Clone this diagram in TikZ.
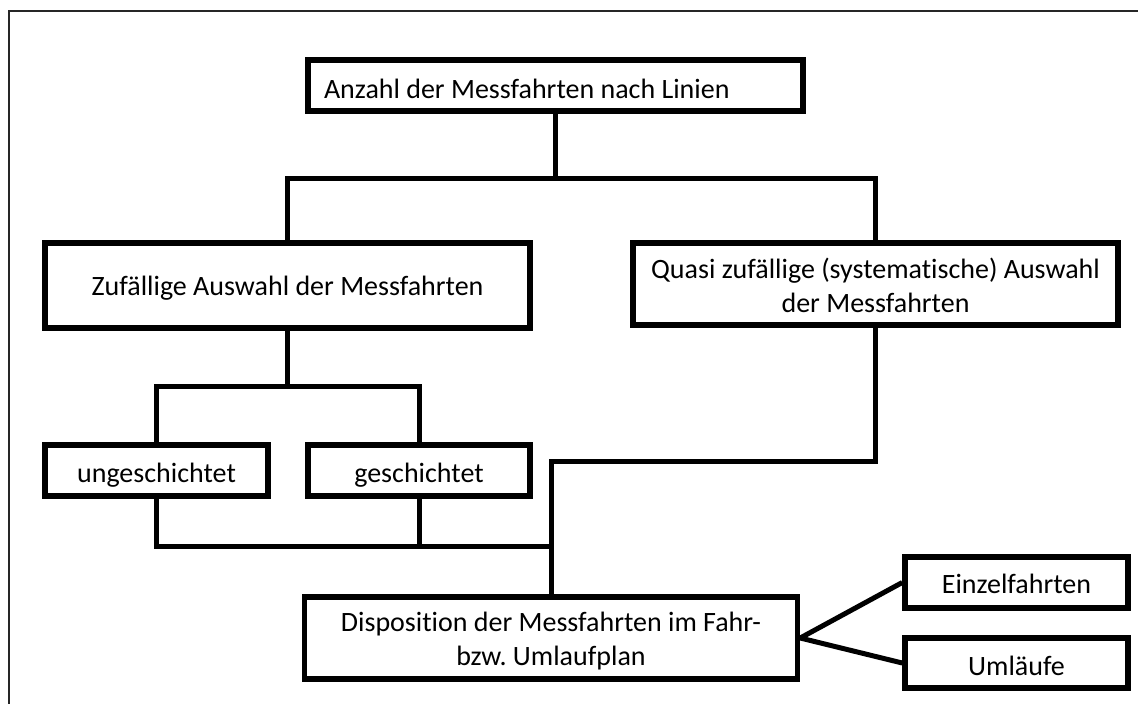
\documentclass[tikz,border=0pt]{standalone}
\usepackage{fontspec}
\setmainfont{Carlito}[Ligatures=NoCommon]
\frenchspacing
\begin{document}
\begin{tikzpicture}[x=1pt,y=-1pt,
  box/.style={draw=black, line width=5.5pt, fill=white, inner sep=0pt,
    font=\fontsize{28}{34}\selectfont, align=center, text depth=0pt},
  conn/.style={draw=black, line width=5pt},
  frameline/.style={draw=black!85, line width=2pt}]
\useasboundingbox (0,0) rectangle (1138,704);
\draw[frameline] (9,704) -- (9,11) -- (1138,11);

\node[box, minimum width=495pt, minimum height=51pt, text height=25pt] (top) at (555.5,85.5) {\makebox[463pt][l]{Anzahl der Messfahrten nach Linien}};
\node[box, minimum width=485pt, minimum height=85pt, text height=19pt] (zuf) at (287.5,285.5) {Zufällige Auswahl der Messfahrten};
\node[box, minimum width=485pt, minimum height=82pt, text height=56pt] (quasi) at (875.5,284) {Quasi zufällige (systematische) Auswahl\\der Messfahrten};
\node[box, minimum width=223pt, minimum height=51pt, text height=23pt] (ung) at (156.5,470.5) {ungeschichtet};
\node[box, minimum width=222pt, minimum height=51pt, text height=23pt] (ges) at (419,470.5) {geschichtet};
\node[box, minimum width=493pt, minimum height=82pt, text height=54pt] (disp) at (551,638) {Disposition der Messfahrten im Fahr-\\bzw. Umlaufplan};
\node[box, minimum width=223pt, minimum height=51pt, text height=22pt] (einz) at (1016.5,582.5) {Einzelfahrten};
\node[box, minimum width=223pt, minimum height=50pt, text height=24pt] (uml) at (1016.5,663) {Umläufe};

\coordinate (j1) at (555.5,178);
\coordinate (j2) at (287.5,386);
\coordinate (j3) at (551,546);
\coordinate (j4) at (551,461);

\draw[conn] (top.south) -- (j1);
\draw[conn] (zuf.north) |- (j1) -| (quasi.north);
\draw[conn] (zuf.south) -- (j2);
\draw[conn] (ung.north) |- (j2) -| (ges.north);
\draw[conn] (quasi.south) |- (j4) -- (disp.north);
\draw[conn] (ung.south) |- (j3);
\draw[conn] (ges.south) -- (ges.south |- j3);
\draw[conn, line join=round] (einz.west) -- (disp.east) -- (uml.west);
\end{tikzpicture}
\end{document}
